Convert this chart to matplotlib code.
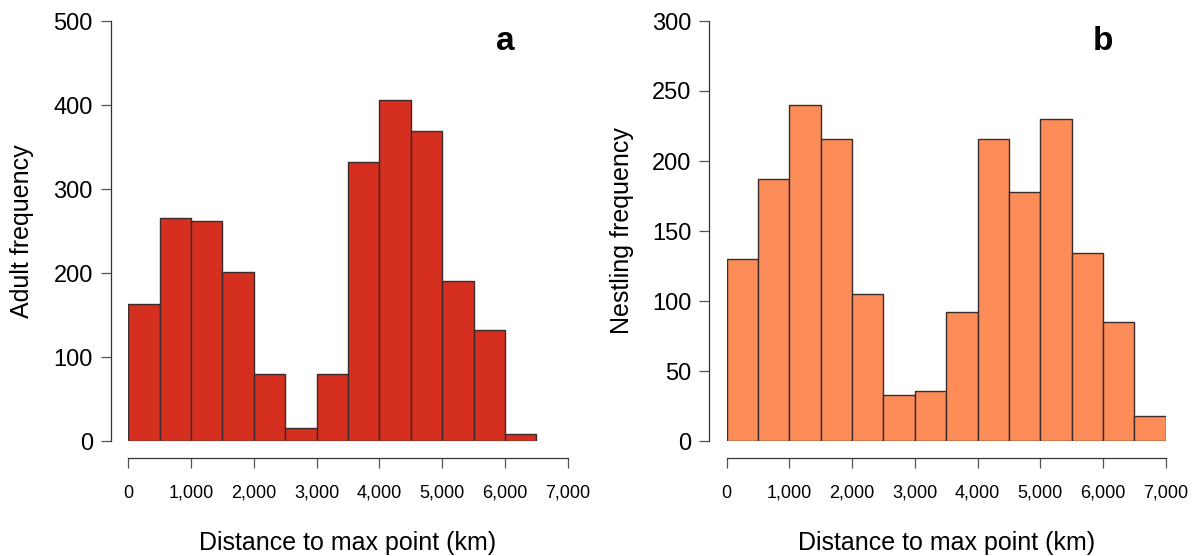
import numpy as np
import matplotlib
matplotlib.use("Agg")
import matplotlib.pyplot as plt

plt.rcParams['font.family'] = ['Liberation Sans', 'DejaVu Sans']

# histogram bins (km) and counts
bin_left = [0, 500, 1000, 1500, 2000, 2500, 3000, 3500, 4000, 4500, 5000, 5500, 6000, 6500]
bin_width = 500
adult_counts = [163, 265, 262, 201, 80, 15, 80, 332, 406, 369, 190, 132, 8]
nestling_counts = [130, 187, 240, 216, 105, 33, 36, 92, 216, 178, 230, 134, 85, 18]
x_ticks = [0, 1000, 2000, 3000, 4000, 5000, 6000, 7000]
x_ticklabels = ["0", "1,000", "2,000", "3,000", "4,000", "5,000", "6,000", "7,000"]

W, H = 1192, 556
fig = plt.figure(figsize=(W / 100, H / 100), dpi=100)

panels = [
    dict(rect=(128.3, 439.4), counts=adult_counts, color="#D52F1F", ymax=500, ystep=100,
         ylabel="Adult frequency", letter="a", ylx=-0.242),
    dict(rect=(726.7, 439.0), counts=nestling_counts, color="#FC8D59", ymax=300, ystep=50,
         ylabel="Nestling frequency", letter="b", ylx=-0.238),
]

for p in panels:
    left, width = p["rect"]
    ax = fig.add_axes([left / W, (H - 441) / H, width / W, 420 / H])
    n = len(p["counts"])
    ax.bar(bin_left[:n], p["counts"], width=bin_width, align="edge",
           color=p["color"], edgecolor="#3b2b2b", linewidth=1.0)
    ax.set_xlim(0, 7000)
    ax.set_ylim(0, p["ymax"])

    for s in ["top", "right"]:
        ax.spines[s].set_visible(False)
    for s in ["left", "bottom"]:
        ax.spines[s].set_position(("outward", 12.5))
        ax.spines[s].set_color("#333333")
        ax.spines[s].set_linewidth(0.9)

    ax.set_xticks(x_ticks)
    ax.set_xticklabels(x_ticklabels)
    ax.set_yticks(np.arange(0, p["ymax"] + 1, p["ystep"]))
    ax.tick_params(axis="x", length=7, width=0.9, color="#555555", pad=12, labelsize=13)
    ax.tick_params(axis="y", length=7, width=0.9, color="#555555", pad=6, labelsize=17)

    ax.set_ylabel(p["ylabel"], fontsize=18)
    ax.yaxis.set_label_coords(p["ylx"], 0.5)
    ax.yaxis.label.set_va("center")
    ax.set_xlabel("Distance to max point (km)", fontsize=18)
    ax.xaxis.set_label_coords(0.5, -0.243)
    ax.xaxis.label.set_va("center")

    ax.text(6000, p["ymax"] * 0.95, p["letter"], fontsize=24, fontweight="bold",
            ha="center", va="center")

fig.savefig("out.png", dpi=100)
